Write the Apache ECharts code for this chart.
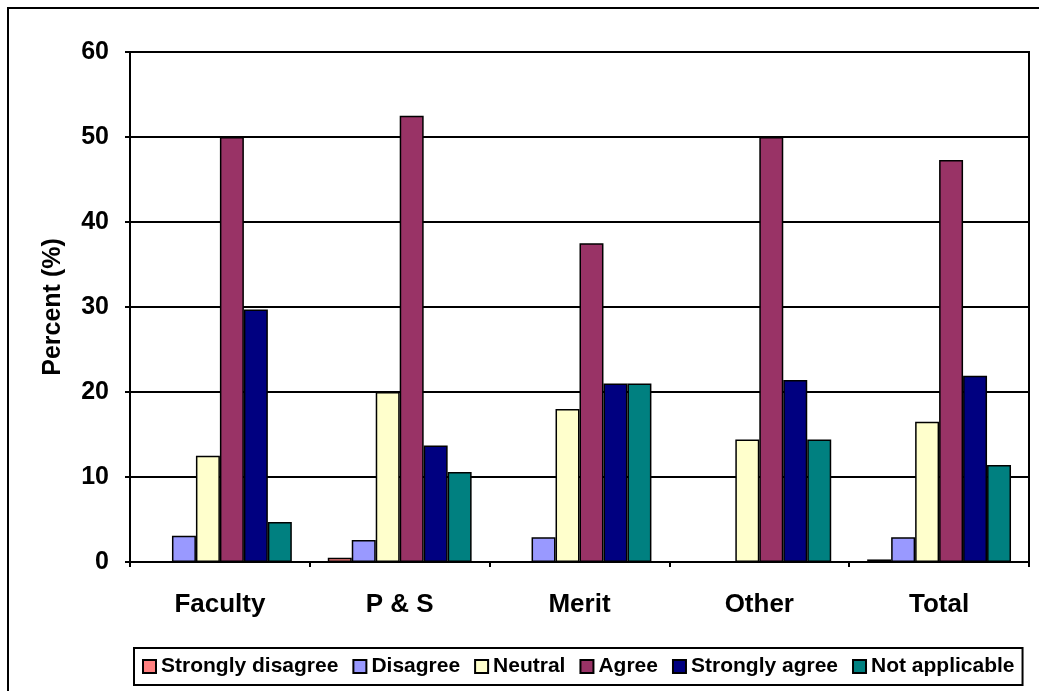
<!DOCTYPE html>
<html>
<head>
<meta charset="utf-8">
<script src="https://cdn.jsdelivr.net/npm/echarts@6/dist/echarts.min.js"></script>
<style>
  html, body { margin: 0; padding: 0; background: #fff; }
  #chart { width: 1039px; height: 691px; }
</style>
</head>
<body>
<div id="chart"></div>
<script>
// 数据
const categories = ['Faculty', 'P & S', 'Merit', 'Other', 'Total'];
const stronglyDisagree = [0, 0.5, 0, 0, 0.3];
const disagree = [3.1, 2.6, 2.9, 0, 2.9];
const neutral = [12.5, 20, 18, 14.4, 16.5];
const agree = [50, 52.5, 37.5, 50, 47.3];
const stronglyAgree = [29.7, 13.7, 21, 21.4, 21.9];
const notApplicable = [4.7, 10.6, 21, 14.4, 11.4];
const yTicks = [0, 10, 20, 30, 40, 50, 60];

const font = 'Liberation Sans, Arial, sans-serif';

let mk = (name, data, color) => ({
  name: name,
  type: 'bar',
  data: data,
  barGap: '0%',
  barCategoryGap: '20%',
  itemStyle: { color: color, borderColor: '#000', borderWidth: 1.5 }
});

let myChart = echarts.init(document.getElementById('chart'));
let option = {
  animation: false,
  backgroundColor: '#fff',
  graphic: [{
    type: 'rect',
    shape: { x: 8, y: 8, width: 1040, height: 700 },
    style: { fill: 'none', stroke: '#000', lineWidth: 2 },
    silent: true
  }],
  grid: {
    left: 130, right: 10, top: 52, bottom: 129,
    show: true, borderColor: '#000', borderWidth: 2, backgroundColor: 'transparent'
  },
  legend: {
    bottom: 6,
    left: 134,
    padding: [8, 8, 8, 8],
    itemGap: 14,
    borderColor: '#000',
    borderWidth: 2,
    itemWidth: 13,
    itemHeight: 13,
    icon: 'rect',
    textStyle: { fontFamily: font, fontWeight: 'bold', fontSize: 21, color: '#000' },
    data: ['Strongly disagree', 'Disagree', 'Neutral', 'Agree', 'Strongly agree', 'Not applicable']
  },
  xAxis: {
    type: 'category',
    data: categories,
    axisLine: { lineStyle: { color: '#000', width: 2 } },
    axisTick: { show: true, length: 5, lineStyle: { color: '#000', width: 2 } },
    axisLabel: { fontFamily: font, fontWeight: 'bold', fontSize: 26, color: '#000', margin: 30 }
  },
  yAxis: {
    type: 'value',
    min: yTicks[0],
    max: yTicks[yTicks.length - 1],
    interval: 10,
    name: 'Percent (%)',
    nameLocation: 'middle',
    nameGap: 64,
    nameTextStyle: { fontFamily: font, fontWeight: 'bold', fontSize: 25, color: '#000' },
    axisLine: { show: true, lineStyle: { color: '#000', width: 2 } },
    axisTick: { show: true, length: 5, lineStyle: { color: '#000', width: 2 } },
    axisLabel: { fontFamily: font, fontWeight: 'bold', fontSize: 25, color: '#000', margin: 21 },
    splitLine: { show: true, lineStyle: { color: '#000', width: 2 } }
  },
  series: [
    mk('Strongly disagree', stronglyDisagree, '#FF8080'),
    mk('Disagree', disagree, '#9999FF'),
    mk('Neutral', neutral, '#FFFFCC'),
    mk('Agree', agree, '#993366'),
    mk('Strongly agree', stronglyAgree, '#000080'),
    mk('Not applicable', notApplicable, '#008080')
  ]
};
myChart.setOption(option);
window.addEventListener('resize', function () {
  myChart.resize();
});
</script>
</body>
</html>
